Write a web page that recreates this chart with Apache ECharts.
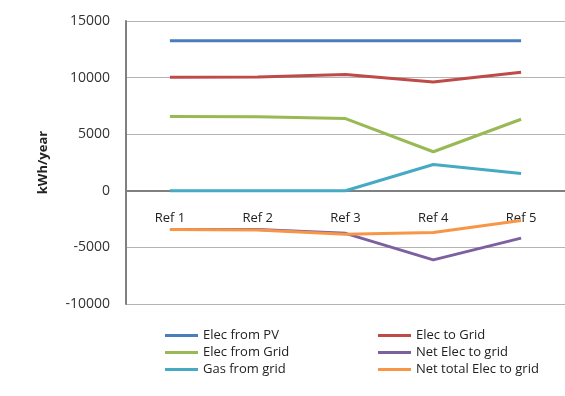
<!DOCTYPE html>
<html>
<head>
<meta charset="utf-8">
<script src="https://cdn.jsdelivr.net/npm/echarts@6/dist/echarts.min.js"></script>
<style>
  html, body { margin: 0; padding: 0; background: #fff; }
  #chart { width: 565px; height: 396px; }
</style>
</head>
<body>
<div id="chart"></div>
<script>
// Annual energy balance per reference case (kWh/year)
var categories = ['Ref 1', 'Ref 2', 'Ref 3', 'Ref 4', 'Ref 5'];
var elecFromPV = [13250, 13250, 13250, 13250, 13250];
var elecToGrid = [10030, 10060, 10280, 9620, 10470];
var elecFromGrid = [6560, 6540, 6380, 3450, 6320];
var netElecToGrid = [-3420, -3420, -3760, -6100, -4180];
var gasFromGrid = [0, 0, 0, 2320, 1530];
var netTotalElecToGrid = [-3420, -3460, -3830, -3690, -2620];

var seriesNames = ['Elec from PV', 'Elec to Grid', 'Elec from Grid', 'Net Elec to grid', 'Gas from grid', 'Net total Elec to grid'];
var seriesData = [elecFromPV, elecToGrid, elecFromGrid, netElecToGrid, gasFromGrid, netTotalElecToGrid];
var seriesColors = ['#4a7ebb', '#be4b48', '#98b954', '#7d60a0', '#46aac5', '#f79646'];

var yMin = -10000, yMax = 15000;
var gridTop = 21, gridBottom = 92, chartH = 396;

var font = '"Open Sans", "Liberation Sans", sans-serif';

// shift the category axis up so it sits on the zero line
var plotH = chartH - gridTop - gridBottom;
var zeroOffset = -plotH * (0 - yMin) / (yMax - yMin);

var legendText = { fontSize: 13, color: '#222', fontFamily: font };

var chart = echarts.init(document.getElementById('chart'));
chart.setOption({
  backgroundColor: '#ffffff',
  animation: false,
  textStyle: { fontFamily: font },
  grid: { left: 126, right: 0, top: gridTop, bottom: gridBottom },
  legend: [
    {
      data: [seriesNames[0], seriesNames[2], seriesNames[4]],
      orient: 'vertical', left: 165, top: 329, itemGap: 4, padding: 0,
      itemWidth: 33, itemHeight: 3, icon: 'rect',
      textStyle: legendText
    },
    {
      data: [seriesNames[1], seriesNames[3], seriesNames[5]],
      orient: 'vertical', left: 378, top: 329, itemGap: 4, padding: 0,
      itemWidth: 33, itemHeight: 3, icon: 'rect',
      textStyle: legendText
    }
  ],
  xAxis: {
    type: 'category',
    data: categories,
    boundaryGap: true,
    offset: zeroOffset,
    axisLine: { onZero: false, lineStyle: { color: '#808080', width: 2 } },
    axisTick: { show: false },
    axisLabel: { margin: 21, fontSize: 13, color: '#222' }
  },
  yAxis: {
    type: 'value',
    min: yMin, max: yMax, interval: 5000,
    name: 'kWh/year',
    nameLocation: 'middle',
    nameGap: 76,
    nameRotate: 90,
    nameTextStyle: { fontSize: 13, fontWeight: 'bold', color: '#222' },
    axisLine: { show: true, lineStyle: { color: '#808080', width: 2 } },
    axisTick: { show: false },
    axisLabel: { fontSize: 14, color: '#333', margin: 16, formatter: function (v) { return String(v); } },
    splitLine: { lineStyle: { color: '#b4b4b4', width: 1 } }
  },
  series: seriesNames.map(function (name, i) {
    return {
      name: name,
      type: 'line',
      data: seriesData[i],
      symbol: 'none',
      color: seriesColors[i],
      lineStyle: { width: 3, color: seriesColors[i] }
    };
  })
});
</script>
</body>
</html>
